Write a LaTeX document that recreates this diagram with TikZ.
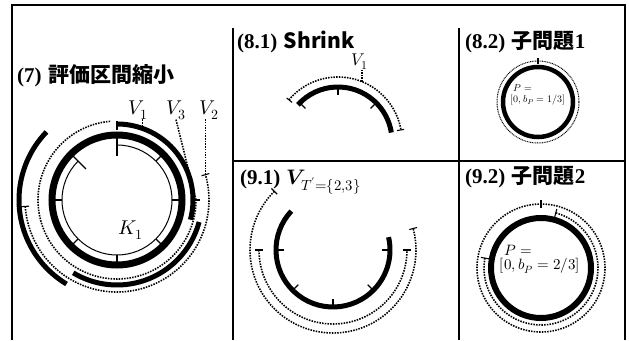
\documentclass[tikz,border=0pt]{standalone}
\usepackage{amsmath}
\usepackage{fontspec}
\usepackage{unicode-math}
\newfontfamily\jpfont{Noto Sans CJK JP}
\newfontfamily\numfont{Liberation Serif}
\usetikzlibrary{calc}
\newcommand{\jp}[1]{{\jpfont\bfseries #1}}
\newcommand{\nm}[1]{{\numfont\bfseries #1}}

\begin{document}
\begin{tikzpicture}[
  x=1pt, y=1pt,
  ring/.style={line width=7pt},
  band/.style={line width=5pt},
  span/.style={line width=1.6pt, dash pattern=on 1.5pt off 1.2pt},
  fine/.style={line width=1pt, dash pattern=on 0.9pt off 0.8pt},
  tickmark/.style={line width=1.1pt},
  rule/.style={line width=1.3pt},
  ttl/.style={anchor=west, inner sep=0pt, font=\fontsize{21}{21}\selectfont},
  lbl/.style={inner sep=0pt, font=\fontsize{20}{20}\selectfont}
]
  \useasboundingbox (0,0) rectangle (629,340);

  % frame and panel rules
  \draw[rule] (12,0) -- (12,335);
  \draw[rule] (625,0) -- (625,335);
  \draw[line width=2pt] (11,335) -- (626,335);
  \draw[rule] (233,312) -- (233,0);
  \draw[rule] (459,312) -- (459,0);
  \draw[rule] (233,179) -- (625,179);

  % (7)
  \node[ttl] (t7) at (17,264) {\nm{(7)} \jp{評価区間縮小}};
  \coordinate (c7) at (117,140);
  \draw[ring] (c7) circle[radius=65];
  \draw[line width=1pt] ($(c7)+(135:55)$) arc[start angle=135, end angle=450, radius=55];
  \foreach \a in {0,45,180,225,270,315}
    \draw[tickmark] ($(c7)+(\a:55)$) -- ($(c7)+(\a:62)$);
  \foreach \a in {90,135}
    \draw[tickmark] ($(c7)+(\a:44)$) -- ($(c7)+(\a:62)$);
  \draw[band] ($(c7)+(90:76)$) arc[start angle=90, end angle=-15, radius=76];
  \draw[tickmark] ($(c7)+(90:70)$) -- ($(c7)+(90:79)$);
  \draw[band] ($(c7)+(-15:85)$) arc[start angle=-15, end angle=-121, radius=85];
  \draw[band] ($(c7)+(239:98)$) arc[start angle=239, end angle=136, radius=98];
  \draw[span] ($(c7)+(95:79)$) arc[start angle=95, end angle=360, radius=79];
  \draw[tickmark] ($(c7)+(0:75)$) -- ($(c7)+(0:83)$);
  \draw[span] ($(c7)+(184:92)$) arc[start angle=184, end angle=376, radius=92];
  \foreach \a in {184,16}
    \draw[tickmark] ($(c7)+(\a:88)$) -- ($(c7)+(\a:96)$);
  \coordinate (v1end) at ($(c7)+(71:78)$);
  \coordinate (v3end) at ($(c7)+(0:79)$);
  \coordinate (v2end) at ($(c7)+(16:92)$);
  \node[lbl] (v1) at (138,230) {$V_1$};
  \node[lbl] (v3) at (176,230) {$V_3$};
  \node[lbl] (v2) at (209,230) {$V_2$};
  \draw[span] (v1end) -- (v1end |- v1.south);
  \draw[span] (v3.south) -- (v3end);
  \draw[span] (v2end) -- (v2end |- v2.south);
  \node[lbl] (k1) at (131,110) {$K_1$};

  % (8.1)
  \node[ttl] (t81) at (237,298) {\nm{(8.1)} \jp{Shrink}};
  \coordinate (c81) at (338,199);
  \draw[band] ($(c81)+(138:54)$) arc[start angle=138, end angle=9, radius=54];
  \foreach \a in {45,90,135}
    \draw[tickmark] ($(c81)+(\a:46)$) -- ($(c81)+(\a:54)$);
  \draw[span] ($(c81)+(140:64)$) arc[start angle=140, end angle=10, radius=64];
  \foreach \a in {140,10}
    \draw[tickmark] ($(c81)+(\a:60)$) -- ($(c81)+(\a:67)$);
  \coordinate (w1end) at ($(c81)+(68:64)$);
  \node[lbl, font=\fontsize{17}{17}\selectfont] (w1) at (360,278) {$V_1$};
  \draw[span] (w1end) -- (w1end |- w1.south);

  % (9.1)
  \node[ttl] (t91) at (240,158) {\nm{(9.1)} $\symbfit{V}_{T'=\{2,3\}}$};
  \coordinate (c91) at (333,90);
  \draw[band] ($(c91)+(137:57)$) arc[start angle=137, end angle=373, radius=57];
  \foreach \a in {180,225,270,315,360}
    \draw[tickmark] ($(c91)+(\a:49)$) -- ($(c91)+(\a:57)$);
  \draw[span] ($(c91)+(135:83)$) arc[start angle=135, end angle=375, radius=83];
  \foreach \a in {135,15}
    \draw[tickmark] ($(c91)+(\a:79)$) -- ($(c91)+(\a:87)$);
  \draw[span] ($(c91)+(180:74)$) arc[start angle=180, end angle=360, radius=74];
  \foreach \a in {180,360}
    \draw[tickmark] ($(c91)+(\a:70)$) -- ($(c91)+(\a:78)$);

  % (8.2)
  \node[ttl] (t82) at (465,298) {\nm{(8.2)} \jp{子問題}\nm{1}};
  \coordinate (c82) at (538,238);
  \draw[line width=4.5pt] (c82) circle[radius=35];
  \draw[fine] (c82) circle[radius=41];
  \draw[tickmark] ($(c82)+(90:38)$) -- ($(c82)+(90:44)$);
  \node[inner sep=0pt, font=\fontsize{10}{10}\selectfont] (p1) at (523,252) {$P=$};
  \node[inner sep=0pt, font=\fontsize{10}{10}\selectfont] (b1) at (538,240) {$[0,b_P=1/3]$};

  % (9.2)
  \node[ttl] (t92) at (465,163) {\nm{(9.2)} \jp{子問題}\nm{2}};
  \coordinate (c92) at (541,72);
  \draw[line width=6pt] (c92) circle[radius=50];
  \draw[span] (c92) circle[radius=64];
  \draw[tickmark] ($(c92)+(90:60)$) -- ($(c92)+(90:68)$);
  \draw[span] ($(c92)+(170:57)$) arc[start angle=170, end angle=435, radius=57];
  \foreach \a in {170,75}
    \draw[tickmark] ($(c92)+(\a:53)$) -- ($(c92)+(\a:61)$);
  \node[inner sep=0pt, font=\fontsize{15}{15}\selectfont] (p2) at (518,90) {$P=$};
  \node[inner sep=0pt, font=\fontsize{15}{15}\selectfont] (b2) at (540,74) {$[0,b_P=2/3]$};
\end{tikzpicture}
\end{document}
